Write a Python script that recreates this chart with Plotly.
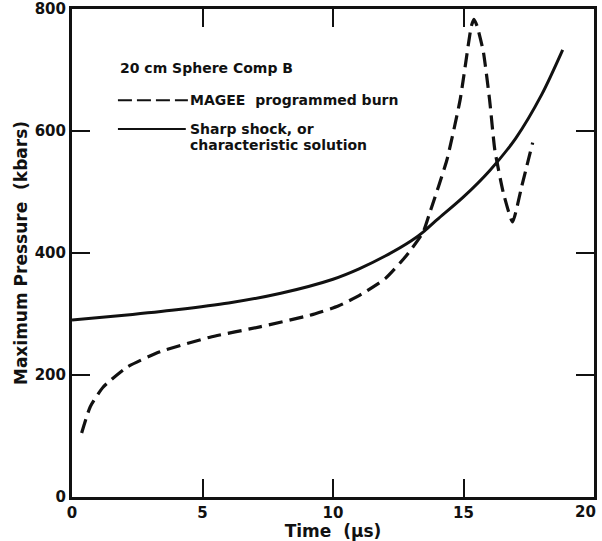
import plotly.graph_objects as go

# Sharp shock / characteristic solution (solid)
solid_t = [0, 2, 4, 6, 8, 10, 11, 12, 13, 13.5, 14, 15, 16, 17, 18, 18.8]
solid_p = [290, 298, 307, 318, 334, 357, 374, 395, 420, 436, 455, 492, 535, 588, 660, 733]

# MAGEE programmed burn (dashed)
magee_t = [0.37, 0.7, 1.19, 2.11, 3.37, 5.29, 7.2, 9.12, 10.2, 11.03, 12.0, 12.8, 13.45,
           13.7, 14.36, 14.87, 15.18, 15.3, 15.4, 15.52, 15.76, 16.0, 16.2, 16.53, 16.88, 17.23, 17.65]
magee_p = [105, 148, 180, 213, 238, 262, 279, 298, 313, 331, 358, 395, 434,
           465, 552, 651, 740, 772, 783, 772, 730, 651, 569, 498, 451, 509, 581]

x_ticks = [0, 5, 10, 15, 20]
x_tick_labels = ["0", "5", "10", "15", "20"]
y_ticks = [0, 200, 400, 600, 800]
y_tick_labels = ["0", "200", "400", "600", "800"]

FONT = "DejaVu Sans"
ink = "#111111"
tick_font = dict(family=FONT, size=15, color=ink, weight="bold")

fig = go.Figure()
fig.add_trace(go.Scatter(x=solid_t, y=solid_p, mode="lines",
                         line=dict(color=ink, width=3, shape="spline", smoothing=0.8),
                         showlegend=False))
fig.add_trace(go.Scatter(x=magee_t, y=magee_p, mode="lines",
                         line=dict(color=ink, width=3.2, dash="14px,7px", shape="spline", smoothing=0.5),
                         showlegend=False))

axis_common = dict(showgrid=False, zeroline=False, showline=True, linewidth=3, linecolor=ink,
                   ticks="inside", ticklen=18, tickwidth=2, tickcolor=ink, mirror="ticks",
                   automargin=False, tickfont=tick_font)

# the last x label sits just inside the right edge (drawn as an annotation below)
x_text = x_tick_labels[:-1] + [""]

fig.update_xaxes(range=[0, 20], tickvals=x_ticks, ticktext=x_text,
                 title=dict(text="Time  (μs)", font=dict(family=FONT, size=17, color=ink, weight="bold"),
                            standoff=0),
                 **axis_common)
fig.update_yaxes(range=[0, 800], tickvals=y_ticks, ticktext=y_tick_labels,
                 title=dict(text="Maximum Pressure  (kbars)",
                            font=dict(family=FONT, size=17, color=ink, weight="bold"), standoff=3),
                 **axis_common)

fig.add_annotation(x=x_ticks[-1], y=0, xref="x", yref="paper", xanchor="right", yanchor="top",
                   xshift=4, yshift=-4, text=x_tick_labels[-1], showarrow=False, font=tick_font)

# legend block drawn as annotations/shapes
lab_font = dict(family=FONT, size=14, color=ink, weight="bold")
fig.add_annotation(x=0.088, y=0.879, xref="paper", yref="paper", xanchor="left", yanchor="middle",
                   text="20 cm Sphere Comp B", showarrow=False, font=lab_font)
fig.add_annotation(x=0.222, y=0.813, xref="paper", yref="paper", xanchor="left", yanchor="middle",
                   text="MAGEE  programmed burn", showarrow=False, font=lab_font)
fig.add_annotation(x=0.222, y=0.754, xref="paper", yref="paper", xanchor="left", yanchor="middle",
                   text="Sharp shock, or", showarrow=False, font=lab_font)
fig.add_annotation(x=0.222, y=0.721, xref="paper", yref="paper", xanchor="left", yanchor="middle",
                   text="characteristic solution", showarrow=False, font=lab_font)
fig.add_shape(type="line", xref="paper", yref="paper", x0=0.088, x1=0.222, y0=0.813, y1=0.813,
              line=dict(color=ink, width=2, dash="14px,5px"))
fig.add_shape(type="line", xref="paper", yref="paper", x0=0.088, x1=0.218, y0=0.754, y1=0.754,
              line=dict(color=ink, width=2))

fig.update_layout(width=602, height=541, margin=dict(l=72, r=8, t=9, b=44),
                  paper_bgcolor="white", plot_bgcolor="white")
fig.write_html("out.html", config={"displayModeBar": False},
               post_script="document.body.style.margin='0';document.body.style.overflow='hidden';")
